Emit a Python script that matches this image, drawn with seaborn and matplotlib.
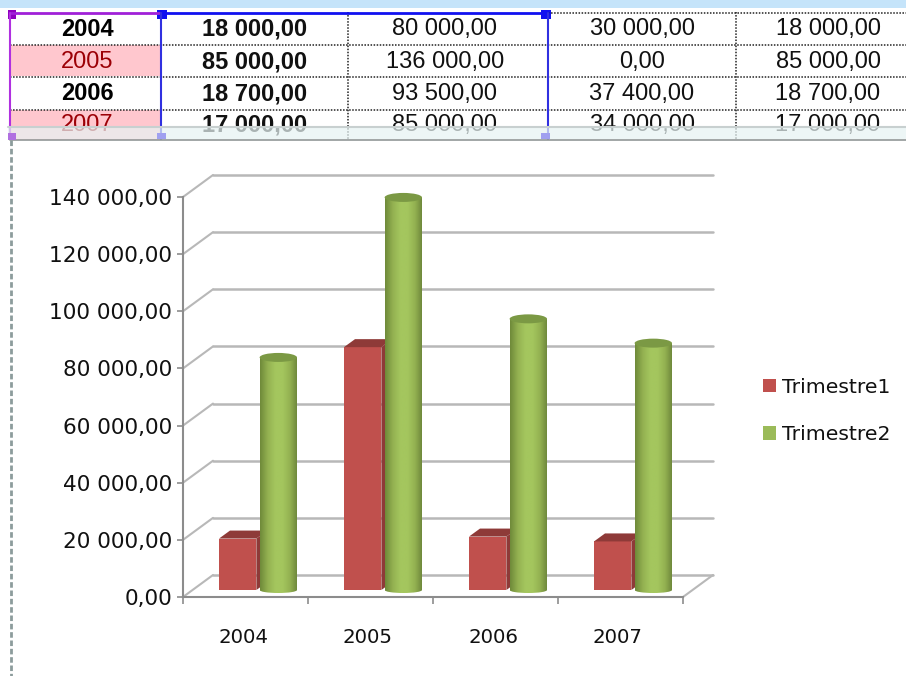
import numpy as np
import pandas as pd
import matplotlib
matplotlib.use('Agg')
import matplotlib.pyplot as plt
import seaborn as sns
from matplotlib.colors import LinearSegmentedColormap
from matplotlib.lines import Line2D
from matplotlib.patches import Ellipse, Polygon, Rectangle
from matplotlib.path import Path
from matplotlib.transforms import Affine2D, IdentityTransform

# data
years = ['2004', '2005', '2006', '2007']
trimestre1 = [18000, 85000, 18700, 17000]
trimestre2 = [80000, 136000, 93500, 85000]
colonne3 = [30000, 0, 37400, 34000]
colonne4 = [18000, 85000, 18700, 17000]
y_ticks = [0, 20000, 40000, 60000, 80000, 100000, 120000, 140000]


def fmt(v):
    return f'{v:,.2f}'.replace(',', ' ').replace('.', ',')


sns.set_theme(style='white')
plt.rcParams['font.family'] = ['DejaVu Sans']

RED = '#C0504D'
GREEN = '#9BBB59'
GRID = '#B8B8B8'
SHEET_FONT = ['Liberation Sans']

fig = plt.figure(figsize=(9.06, 6.76), dpi=100)

# fond : feuille de calcul, en pixels
bg = fig.add_axes([0, 0, 1, 1], zorder=0)
bg.set_xlim(0, 906)
bg.set_ylim(676, 0)
bg.axis('off')

bg.add_patch(Rectangle((0, 0), 906, 8, color='#C5E4FA', lw=0))
bg.add_patch(Rectangle((10, 45), 151, 31, color='#FFC7CE', lw=0))
bg.add_patch(Rectangle((10, 110), 151, 30, color='#FFC7CE', lw=0))
for row_y in [44.5, 76.5, 109.5]:
    bg.plot([10, 906], [row_y, row_y], color='#222222', lw=1.1, ls=(0, (1, 1)))
bg.plot([548, 906], [12.5, 12.5], color='#222222', lw=1.1, ls=(0, (1, 1)))
for col_x in [348, 736]:
    bg.plot([col_x, col_x], [12, 140], color='#222222', lw=1.1, ls=(0, (1, 1)))

# selection
bg.plot([10, 161], [13, 13], color='#A020D8', lw=2)
bg.plot([161, 548], [13, 13], color='#1010F0', lw=2)
bg.plot([10, 10], [13, 140], color='#B030E0', lw=1.5)
for col_x in [161, 548]:
    bg.plot([col_x, col_x], [13, 140], color='#3030E0', lw=1.5)
bg.add_patch(Rectangle((8, 10), 8, 9, color='#9000C0', lw=0))
bg.add_patch(Rectangle((157, 10), 10, 9, color='#1010F0', lw=0))
bg.add_patch(Rectangle((541, 10), 10, 9, color='#1010F0', lw=0))

# tableau
col_centers = [255, 445, 642, 828]
row_centers = [29, 62, 94, 125]
for i, year in enumerate(years):
    is_red = year in ('2005', '2007')
    bg.text(87, row_centers[i], year, ha='center', va='center', fontsize=17,
            family=SHEET_FONT, color='#9C0006' if is_red else 'black',
            fontweight='normal' if is_red else 'bold')
    row = [trimestre1[i], trimestre2[i], colonne3[i], colonne4[i]]
    for j, val in enumerate(row):
        bg.text(col_centers[j], row_centers[i], fmt(val), ha='center', va='center',
                fontsize=17, family=SHEET_FONT, color='#111111',
                fontweight='bold' if j == 0 else 'normal')

# bord du graphique
bg.add_patch(Rectangle((0, 140), 906, 536, color='white', lw=0, zorder=5))
bg.add_patch(Rectangle((8, 127), 898, 12, color='#E6F3F3', alpha=0.72, lw=0, zorder=5))
bg.plot([8, 906], [127, 127], color='#C8D0D0', lw=1.5, zorder=6)
bg.plot([10, 906], [139.5, 139.5], color='#9A9F9F', lw=1.3, zorder=6)
bg.plot([11, 11], [140, 676], color='#8C9C9C', lw=2, ls=(0, (2, 1)), zorder=6)
bg.add_patch(Rectangle((157, 133), 9, 6, color='#A0A0F0', lw=0, zorder=6))
bg.add_patch(Rectangle((541, 133), 9, 6, color='#A0A0F0', lw=0, zorder=6))
bg.add_patch(Rectangle((8, 133), 8, 7, color='#B070E0', lw=0, zorder=6))

# graphique : le cadre avant de l'axe sert de reference
ax = fig.add_axes([183 / 906, 1 - 597 / 676, 500 / 906, 400 / 676], zorder=2)
ax.patch.set_visible(False)

df = pd.DataFrame({
    'annee': years * 2,
    'valeur': trimestre1 + trimestre2,
    'serie': ['Trimestre1'] * 4 + ['Trimestre2'] * 4,
})
sns.barplot(data=df, x='annee', y='valeur', hue='serie', palette=[RED, GREEN],
            width=0.65, gap=0.08, saturation=1, linewidth=0, ax=ax, zorder=3)
handles, labels = ax.get_legend_handles_labels()
ax.get_legend().remove()

ax.set_xlim(-0.6, 3.4)
ax.set_ylim(0, 140000)
ax.autoscale(False)
ax.set_xlabel('')
ax.set_ylabel('')
for side in ['top', 'right']:
    ax.spines[side].set_visible(False)
for side in ['left', 'bottom']:
    ax.spines[side].set_color('#8C8C8C')
    ax.spines[side].set_linewidth(1.5)

ax.set_yticks(y_ticks, [fmt(v) for v in y_ticks])
ax.tick_params(axis='y', length=4, width=1.2, color='#8C8C8C', labelsize=15.6,
               labelcolor='#111111', pad=4, left=True)
ax.set_xticks(np.arange(-0.6, 3.5, 1))
ax.set_xticklabels([])
ax.set_xticks(np.arange(4) - 0.12, years, minor=True)
ax.tick_params(axis='x', which='major', length=5, width=1.2, color='#8C8C8C', bottom=True)
ax.tick_params(axis='x', which='minor', length=0, labelsize=14.2, labelcolor='#111111', pad=22)


def offset(dx, dy):
    return ax.transData + Affine2D().translate(dx, dy)


# murs : profondeur de 30 px sur 22 px
x0, x1 = ax.get_xlim()
for v in y_ticks:
    ax.plot([x0, x1], [v, v], transform=offset(30, 22), color=GRID, lw=1.8, zorder=1, clip_on=False)
    p0 = ax.transData.transform((x0, v))
    ax.add_line(Line2D([p0[0], p0[0] + 30], [p0[1], p0[1] + 22], color=GRID, lw=1.5,
                       transform=IdentityTransform(), zorder=1, clip_on=False))
p1 = ax.transData.transform((x1, 0))
ax.add_line(Line2D([p1[0], p1[0] + 30], [p1[1], p1[1] + 22], color=GRID, lw=1.5,
                   transform=IdentityTransform(), zorder=1, clip_on=False))

# barres : on les pose sur le plancher, 7 px au-dessus du cadre
BASE = 7
red_bars, green_bars = ax.containers[0], ax.containers[1]

for bar in red_bars:
    bar.set_transform(offset(0, BASE))
    bar.set_clip_on(False)
    (l, b), (r, t) = ax.transData.transform(bar.get_bbox().get_points()) + [0, BASE]
    top = [(l, t), (r, t), (r + 11, t + 8), (l + 11, t + 8)]
    side = [(r, b), (r, t), (r + 11, t + 8), (r + 11, b + 8)]
    for pts in [top, side]:
        ax.add_patch(Polygon(pts, closed=True, color='#8E3A38', lw=0,
                             transform=IdentityTransform(), zorder=3.5, clip_on=False))

cyl = LinearSegmentedColormap.from_list('cyl', ['#6F8A3A', '#93B151', '#A4C65E', '#A4C65E', '#93B151', '#6B843A'])
gradient = np.linspace(0, 1, 64).reshape(1, -1)
for bar in green_bars:
    bar.set_transform(offset(0, BASE))
    bar.set_visible(False)
    (l, b), (r, t) = ax.transData.transform(bar.get_bbox().get_points()) + [0, BASE]
    t += 4
    cx = (l + r) / 2
    rect = Path([(l, b), (r, b), (r, t), (l, t), (l, b)], closed=True)
    foot = Path.unit_circle().transformed(Affine2D().scale((r - l) / 2, 3).translate(cx, b))
    im = ax.imshow(gradient, cmap=cyl, extent=(l, r, b - 4, t), aspect='auto',
                   transform=IdentityTransform(), zorder=4, interpolation='bilinear')
    im.set_clip_path(Path.make_compound_path(rect, foot), IdentityTransform())
    ax.add_patch(Ellipse((cx, t), r - l, 9, color='#7B9944', lw=0,
                         transform=IdentityTransform(), zorder=4.5, clip_on=False))

ax.set_xlim(x0, x1)
ax.set_ylim(0, 140000)

# legende
leg = ax.legend(handles, labels, loc='center left', frameon=False, fontsize=14.7,
                bbox_to_anchor=(763 / 906, 1 - 411 / 676), bbox_transform=fig.transFigure,
                handlelength=0.65, handleheight=0.65, handletextpad=0.3, labelspacing=1.4,
                labelcolor='#111111', borderpad=0, borderaxespad=0)

fig.savefig('out.png', dpi=100)
